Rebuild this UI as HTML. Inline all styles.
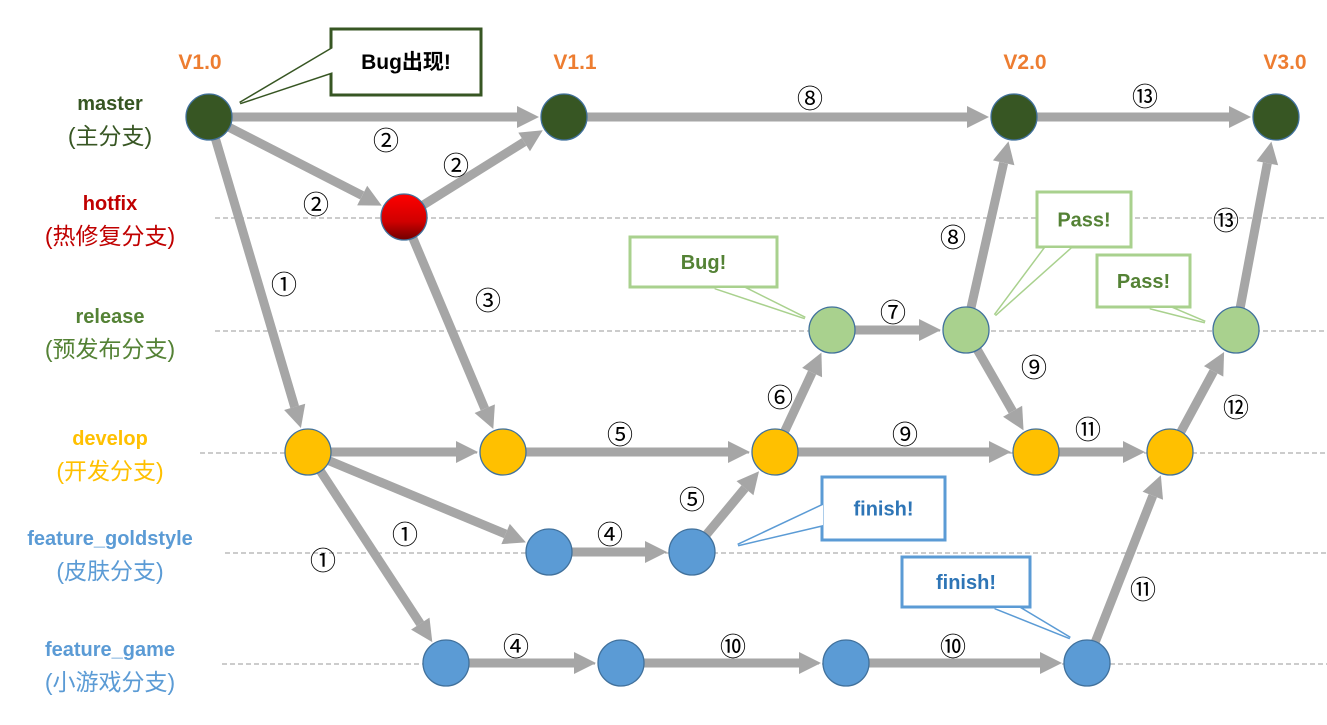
<!DOCTYPE html>
<html><head><meta charset="utf-8"><style>
body{margin:0;background:#fff;width:1327px;height:720px;overflow:hidden}
svg text{font-family:"Liberation Sans","Noto Sans CJK SC",sans-serif}
</style></head><body>
<svg id="c" width="1327" height="720" xmlns="http://www.w3.org/2000/svg">
<g id="lanes"></g><g id="edges"></g><g id="nodes"></g><g id="labels"></g><g id="callouts"></g>
</svg>
<script>
const branchNames=["master","hotfix","release","develop","feature_goldstyle","feature_game"];
const branchCn=["(主分支)","(热修复分支)","(预发布分支)","(开发分支)","(皮肤分支)","(小游戏分支)"];
const branchY=[117,217,330,452,552,663];
const branchColor=["#375623","#c00000","#548235","#ffc000","#5b9bd5","#5b9bd5"];
const nodeFill=["#375623","url(#red)","#a9d18e","#ffc000","#5b9bd5","#5b9bd5"];
const laneStart=[null,215,215,200,225,222];
const nodeIds=["m0","m1","m2","m3","h0","r0","r1","r2","d0","d1","d2","d3","d4","g0","g1","f0","f1","f2","f3"];
const nodeBranch=[0,0,0,0,1,2,2,2,3,3,3,3,3,4,4,5,5,5,5];
const nodeX=[209,564,1014,1276,404,832,966,1236,308,503,775,1036,1170,549,692,446,621,846,1087];
const edgeFrom=["m0","m1","m2","m0","h0","m0","h0","d0","d1","d2","r0","r1","r1","d2","d3","d4","r2","d0","g0","g1","d0","f0","f1","f2","f3"];
const edgeTo=["m1","m2","m3","h0","m1","d0","d1","d1","d2","r0","r1","m2","d3","d3","d4","r2","m3","g0","g1","d2","f0","f1","f2","f3","d4"];
const stepText=["②","②","②","①","③","⑧","⑬","⑧","⑬","⑦","⑨","⑥","⑤","⑨","⑪","⑫","①","④","⑤","①","⑪","④","⑩","⑩"];
const stepX=[386,456,316,284,488,810,1145,953,1226,893,1034,780,620,905,1088,1236,405,610,692,323,1143,516,733,953];
const stepY=[141,166,205,285,301,99,97,238,221,313,368,398,435,435,430,408,535,535,500,561,590,647,647,647];
const versions=["V1.0","V1.1","V2.0","V3.0"];
const versionX=[200,575,1025,1285];
const NS="http://www.w3.org/2000/svg";
const svg=document.getElementById('c');
function mk(t,a,p){const e=document.createElementNS(NS,t);for(const k in a)e.setAttribute(k,a[k]);p.appendChild(e);return e;}
const defs=mk('defs',{},svg);
const g=mk('linearGradient',{id:'red',x1:0,y1:0,x2:0,y2:1},defs);
mk('stop',{offset:'0','stop-color':'#ff0000'},g);mk('stop',{offset:'0.6','stop-color':'#d00000'},g);mk('stop',{offset:'1','stop-color':'#700000'},g);
const R=23;
const pos={};nodeIds.forEach((id,i)=>pos[id]=[nodeX[i],branchY[nodeBranch[i]]]);
branchY.forEach((y,i)=>{if(laneStart[i]==null)return;
 const l=mk('line',{x1:laneStart[i],y1:y+1,x2:1327,y2:y+1,stroke:'#999','stroke-width':1,'stroke-dasharray':'5,3'},document.getElementById('lanes'));
 
 });
const eg=document.getElementById('edges');
edgeFrom.forEach((f,i)=>{const a=pos[f],b=pos[edgeTo[i]];
 const dx=b[0]-a[0],dy=b[1]-a[1],L=Math.hypot(dx,dy),ux=dx/L,uy=dy/L;
 const sx=a[0]+ux*R,sy=a[1]+uy*R,ex=b[0]-ux*(R+2),ey=b[1]-uy*(R+2);
 const hl=22,hw=11,bx=ex-ux*hl,by=ey-uy*hl;
 const gr=mk('g',{},eg);
 
 
 mk('line',{x1:sx,y1:sy,x2:bx,y2:by,stroke:'#a6a6a6','stroke-width':9},gr);
 mk('polygon',{points:`${ex},${ey} ${bx-uy*hw},${by+ux*hw} ${bx+uy*hw},${by-ux*hw}`,fill:'#a6a6a6'},gr);});
const ng=document.getElementById('nodes');
nodeIds.forEach((id,i)=>{const c=mk('circle',{cx:pos[id][0],cy:pos[id][1],r:R,fill:nodeFill[nodeBranch[i]],stroke:'#41719c','stroke-width':1.3},ng);
 
 });
const lg=document.getElementById('labels');
branchNames.forEach((n,i)=>{const y=branchY[i]-7;
 const t=mk('text',{x:110,y:y,'text-anchor':'middle','font-size':20,'font-weight':'bold',fill:branchColor[i]},lg);t.textContent=n;
 
 
 const t2=mk('text',{x:110,y:y+34,'text-anchor':'middle','font-size':23,fill:branchColor[i]},lg);t2.textContent=branchCn[i];
 
 });
versions.forEach((v,i)=>{const t=mk('text',{x:versionX[i],y:69,'text-anchor':'middle','font-size':21,'font-weight':'bold',fill:'#ed7d31'},lg);t.textContent=v;
 
 });
stepText.forEach((s,i)=>{const t=mk('text',{x:stepX[i],y:stepY[i]+9,'text-anchor':'middle','font-size':26,fill:'#000'},lg);t.textContent=s;
 
 });
const cg=document.getElementById('callouts');
function callout(x,y,w,h,p1,p2,tip,color,txt,tc,name,fs){
 const gr=mk('g',{},cg);
 
 
 mk('polygon',{points:`${p1[0]},${p1[1]} ${tip[0]},${tip[1]} ${p2[0]},${p2[1]}`,fill:'#fff',stroke:color,'stroke-width':3,'stroke-linejoin':'miter'},gr);
 mk('rect',{x:x,y:y,width:w,height:h,fill:'#fff',stroke:color,'stroke-width':3},gr);
 mk('polygon',{points:`${p1[0]},${p1[1]} ${tip[0]},${tip[1]} ${p2[0]},${p2[1]}`,fill:'#fff'},gr);
 const t=mk('text',{x:x+w/2,y:y+h/2+7,'text-anchor':'middle','font-size':fs||20,'font-weight':'bold',fill:tc},gr);t.textContent=txt;}
callout(331,29,150,66,[333,48],[333,72],[240,103],'#375623','Bug出现!','#000','callout-bug-found',21);
callout(630,237,147,50,[715,288],[745,288],[805,318],'#a9d18e','Bug!','#548235','callout-bug');
callout(1037,192,94,55,[1045,248],[1070,248],[995,315],'#a9d18e','Pass!','#548235','callout-pass-1');
callout(1097,255,93,52,[1150,308],[1172,308],[1205,322],'#a9d18e','Pass!','#548235','callout-pass-2');
callout(822,477,123,63,[823,505],[823,525],[738,545],'#5b9bd5','finish!','#2e75b6','callout-finish-1');
callout(902,557,128,50,[995,608],[1020,608],[1070,638],'#5b9bd5','finish!','#2e75b6','callout-finish-2');
</script>
</body></html>
